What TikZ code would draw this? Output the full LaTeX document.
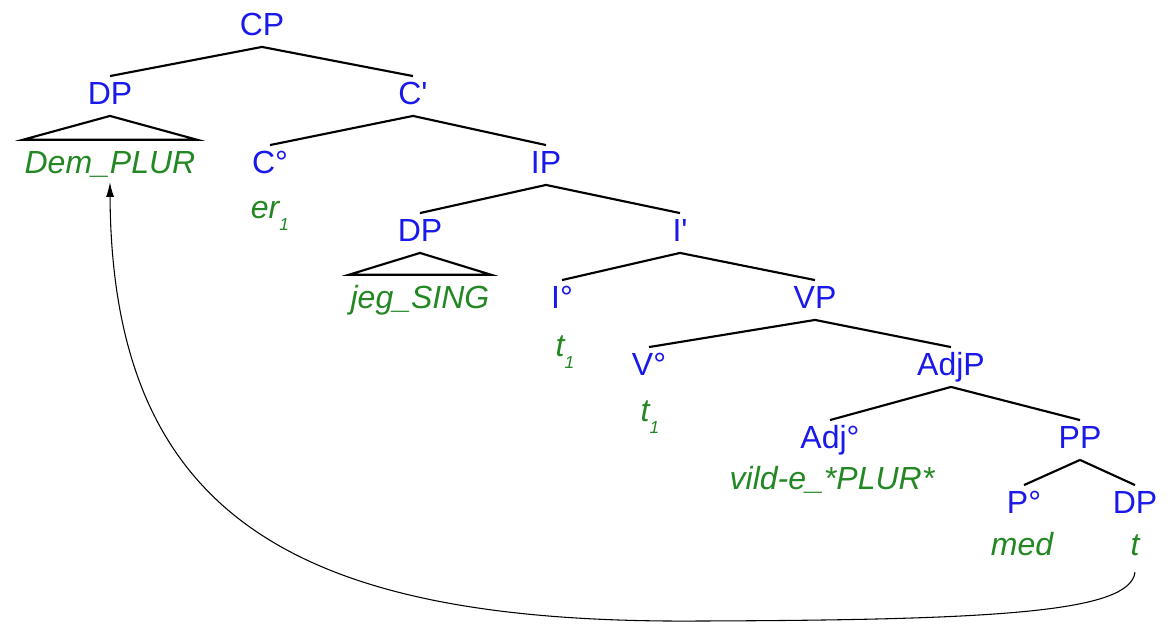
\documentclass[tikz,border=0pt]{standalone}
\usepackage{fontspec}
\setmainfont{Liberation Sans}
\usepackage{xcolor}
\usepackage{tikz}
\usetikzlibrary{arrows.meta}
\definecolor{catblue}{RGB}{25,25,235}
\definecolor{wordgreen}{RGB}{35,135,35}
\newcommand{\trc}[1]{\raisebox{-0.7ex}{\fontsize{13}{13}\selectfont #1}}

\begin{document}
\begin{tikzpicture}
      [ x=0.75pt, y=-0.75pt
      , cat/.style={catblue, font=\fontsize{24}{28}\selectfont, inner sep=4pt, text height=17pt, text depth=4.5pt}
      , word/.style={wordgreen, font=\fontsize{24}{28}\selectfont\itshape, inner xsep=1pt, inner ysep=8pt, text height=17pt, text depth=4.5pt}
      , branch/.style={black, line width=1.6pt}
      , move/.style={black, line width=0.8pt}
      ]
    \useasboundingbox (0,0) rectangle (1171,624);

    \node[cat] (CP) at (262,27) {CP};
    \node[cat] (DPa) at (110,96) {DP};
    \node[cat] (Cbar) at (413,96) {C\textquotesingle};
    \node[word] (dem) at (110,165) {Dem\_PLUR};
    \node[cat] (Chead) at (270,165) {C°};
    \node[word] (er) at (270,210) {er\trc{1}};
    \node[cat] (IP) at (546,165) {IP};
    \node[cat] (DPb) at (420,233) {DP};
    \node[word] (jeg) at (420,300) {jeg\_SING};
    \node[cat] (Ibar) at (680,233) {I\textquotesingle};
    \node[cat] (Ihead) at (562,300) {I°};
    \node[word] (ti) at (565,348) {t\trc{1}};
    \node[cat] (VP) at (815,300) {VP};
    \node[cat] (Vhead) at (649,367) {V°};
    \node[word] (tv) at (650,413) {t\trc{1}};
    \node[cat] (AdjP) at (951,367) {AdjP};
    \node[cat] (Adjhead) at (830,440) {Adj°};
    \node[word] (vild) at (832,481) {vild-e\_*PLUR*};
    \node[cat] (PP) at (1080,440) {PP};
    \node[cat] (Phead) at (1024,505) {P°};
    \node[word] (med) at (1022,547) {med};
    \node[cat] (DPc) at (1135,505) {DP};
    \node[word] (tr) at (1135,547) {t};

    \draw[branch]
    (CP.south) edge (DPa.north)
    (CP.south) edge (Cbar.north)

    (Cbar.south) edge (Chead.north)
    (Cbar.south) edge (IP.north)

    (IP.south) edge (DPb.north)
    (IP.south) edge (Ibar.north)

    (Ibar.south) edge (Ihead.north)
    (Ibar.south) edge (VP.north)

    (VP.south) edge (Vhead.north)
    (VP.south) edge (AdjP.north)

    (AdjP.south) edge (Adjhead.north)
    (AdjP.south) edge (PP.north)

    (PP.south) edge (Phead.north)
    (PP.south) edge (DPc.north);

    % triangles over unanalysed DPs
    \draw[black, line width=1.6pt, line join=miter]
    (DPa.south) -- (dem.north west) -- (dem.north east) -- cycle
    (DPb.south) -- (jeg.north west) -- (jeg.north east) -- cycle;

    \draw[move, -{Latex[length=11pt, width=6pt]}, shorten >=-6pt]
    (tr.south) .. controls (1130,612) and (1000,620) .. (700,621)
               .. controls (300,624) and (112,520) .. (dem.south);

  \end{tikzpicture}
\end{document}
